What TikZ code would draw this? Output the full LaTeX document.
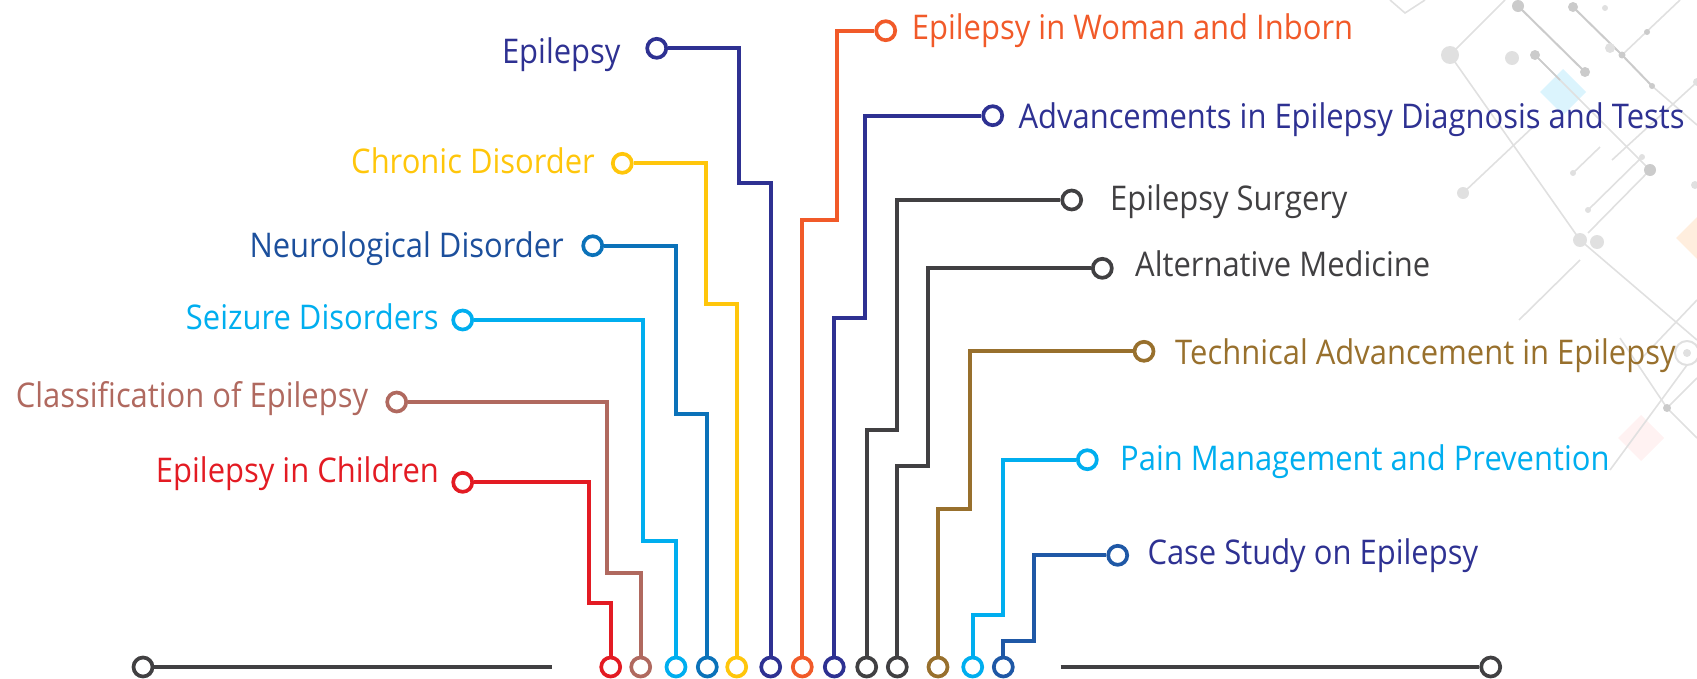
\documentclass[tikz,border=0pt]{standalone}
\usepackage{fontspec}
\setmainfont[FakeStretch=0.91]{Open Sans}
\definecolor{cnavy}{HTML}{2E3192}
\definecolor{corange}{HTML}{F15A29}
\definecolor{cyellow}{HTML}{FFC60B}
\definecolor{cneutxt}{HTML}{1C4F9C}
\definecolor{cneuline}{HTML}{0B72B9}
\definecolor{clblue}{HTML}{00AEEF}
\definecolor{crose}{HTML}{B0695F}
\definecolor{cred}{HTML}{E31B23}
\definecolor{cgray}{HTML}{414042}
\definecolor{cgold}{HTML}{98702D}
\definecolor{ccase}{HTML}{1F58A6}
\definecolor{cdeco}{HTML}{E0E0E0}
\definecolor{cdecodark}{HTML}{CBCBCB}
\tikzset{
  wire/.style={line width=3.7pt},
  pin/.style={circle, draw=#1, fill=white, line width=3.7pt, minimum size=19pt, inner sep=0pt},
  lbl/.style={inner sep=0pt, text=#1, font=\fontsize{34}{40}\selectfont},
  decoline/.style={draw=cdeco, line width=1.6pt},
}
\begin{document}
\begin{tikzpicture}[x=1pt,y=-1pt]
\useasboundingbox (0,0) rectangle (1697,678);
% ---------- background decoration ----------
\begin{scope}
\clip (0,0) rectangle (1697,678);
\fill[cyan!14] (1563,69) -- (1586,92) -- (1563,115) -- (1540,92) -- cycle;
\fill[orange!13] (1699,215) -- (1722,238) -- (1699,261) -- (1676,238) -- cycle;
\fill[red!5] (1641,415) -- (1664,438) -- (1641,461) -- (1618,438) -- cycle;
\draw[decoline] (1450,55) -- (1580,240) -- (1697,340);
\draw[decoline] (1450,55) -- (1505,0);
\draw[decoline] (1390,0) -- (1405,13) -- (1425,0);
\draw[decoline] (1535,55) -- (1650,170);
\draw[decoline] (1650,170) -- (1588,233);
\draw[decoline] (1622,55) -- (1680,0);
\draw[decoline] (1652,86) -- (1697,125);
\draw[decoline] (1697,82) -- (1612,160);
\draw[decoline] (1463,193) -- (1533,127);
\draw[decoline] (1573,173) -- (1600,147);
\draw[decoline] (1588,210) -- (1642,157);
\draw[decoline] (1519,320) -- (1580,260);
\draw[decoline] (1620,338) -- (1667,408) -- (1697,378);
\draw[decoline] (1667,408) -- (1697,438);
\draw[decoline] (1610,470) -- (1687,365);
\draw[decoline] (1697,300) -- (1640,360);
\draw[draw=cdecodark, line width=2pt] (1518,6) -- (1585,72);
\draw[draw=cdecodark, line width=2pt] (1573,7) -- (1622,55) -- (1652,86);
\draw[draw=cdecodark, line width=1.6pt] (1535,55) -- (1560,80);
\draw[cdeco, line width=2pt] (1687,353) circle (12);
\fill[cdecodark] (1518,6) circle (6) (1573,7) circle (5) (1585,72) circle (5)
  (1535,55) circle (5) (1622,55) circle (3.5) (1652,86) circle (3) (1650,170) circle (6)
  (1647,32) circle (3) (1667,408) circle (4);
\fill[cdeco] (1450,55) circle (9) (1512,58) circle (7) (1610,48) circle (5)
  (1580,240) circle (7) (1597,242) circle (7) (1463,193) circle (6) (1573,173) circle (3)
  (1642,157) circle (3) (1588,210) circle (3) (1697,82) circle (4) (1695,185) circle (4)
  (1605,8) circle (3) (1687,353) circle (4);
\end{scope}
% ---------- bottom rails ----------
\node[pin=cgray] (lend) at (143,667) {};
\coordinate (lrail) at (551.7,667);
\draw[cgray, line width=4.2pt] (lend) -- (lrail);
\node[pin=cgray] (rend) at (1490.7,667) {};
\coordinate (rrail) at (1060.7,667);
\draw[cgray, line width=4.2pt] (rrail) -- (rend);
% ---------- pins ----------
\node[pin=cred]     (t1) at (462.7,482.3) {};
\node[pin=cred]     (b1) at (610.7,667) {};
\node[pin=crose]    (t2) at (396.7,402) {};
\node[pin=crose]    (b2) at (640.7,667) {};
\node[pin=clblue]   (t3) at (462.7,320) {};
\node[pin=clblue]   (b3) at (676,667) {};
\node[pin=cneuline] (t4) at (592.7,245.7) {};
\node[pin=cneuline] (b4) at (707.3,667) {};
\node[pin=cyellow]  (t5) at (622.3,163.3) {};
\node[pin=cyellow]  (b5) at (736.7,667) {};
\node[pin=cnavy]    (t6) at (656.7,48.3) {};
\node[pin=cnavy]    (b6) at (770.7,667) {};
\node[pin=corange]  (t7) at (885.7,30.7) {};
\node[pin=corange]  (b7) at (802.3,667) {};
\node[pin=cnavy]    (t8) at (992.7,115.7) {};
\node[pin=cnavy]    (b8) at (834.3,667) {};
\node[pin=cgray]    (t9) at (1071.7,200) {};
\node[pin=cgray]    (b9) at (866.7,667) {};
\node[pin=cgray]    (t10) at (1102.3,268.3) {};
\node[pin=cgray]    (b10) at (897.3,667) {};
\node[pin=cgold]    (t11) at (1144,351.3) {};
\node[pin=cgold]    (b11) at (938,667) {};
\node[pin=clblue]   (t12) at (1087.3,459.7) {};
\node[pin=clblue]   (b12) at (972.7,667) {};
\node[pin=ccase]    (t13) at (1117.7,555.3) {};
\node[pin=ccase]    (b13) at (1003.3,667) {};
% ---------- wires ----------
\draw[wire, cred]     (t1) -- (589.3,482.3) |- (610.7,603) -- (b1);
\draw[wire, crose]    (t2) -- (607.3,402) |- (640.7,573) -- (b2);
\draw[wire, clblue]   (t3) -- (642.7,320) |- (676,541.3) -- (b3);
\draw[wire, cneuline] (t4) -- (676,245.7) |- (707.3,414) -- (b4);
\draw[wire, cyellow]  (t5) -- (706,163.3) |- (736.7,304.3) -- (b5);
\draw[wire, cnavy]    (t6) -- (739.3,48.3) |- (770.7,183.3) -- (b6);
\draw[wire, corange]  (b7) -- (802.3,220) -| (836.7,30.7) -- (t7);
\draw[wire, cnavy]    (b8) -- (834.3,318.3) -| (865,115.7) -- (t8);
\draw[wire, cgray]    (b9) -- (866.7,430.3) -| (897.3,200) -- (t9);
\draw[wire, cgray]    (b10) -- (897.3,466.3) -| (927.7,268.3) -- (t10);
\draw[wire, cgold]    (b11) -- (938,509) -| (970,351.3) -- (t11);
\draw[wire, clblue]   (b12) -- (972.7,614.7) -| (1003.3,459.7) -- (t12);
\draw[wire, ccase]    (b13) -- (1003.3,641.3) -| (1034.3,555.3) -- (t13);
% ---------- labels ----------
\node[lbl=cnavy, anchor=base east]   (l6) at (620.7,63.3)  {Epilepsy};
\node[lbl=cyellow, anchor=base east] (l5) at (595,173.3)   {Chronic Disorder};
\node[lbl=cneutxt, anchor=base east] (l4) at (564,257.7)   {Neurological Disorder};
\node[lbl=clblue, anchor=base east]  (l3) at (438.7,329)   {Seizure Disorders};
\node[lbl=crose, anchor=base east]   (l2) at (368.3,407)   {Classification of Epilepsy};
\node[lbl=cred, anchor=base east]    (l1) at (439,482)     {Epilepsy in Children};
\node[lbl=corange, anchor=base west] (l7) at (911.7,39.3)  {Epilepsy in Woman and Inborn};
\node[lbl=cnavy, anchor=base west]   (l8) at (1018.3,128.3) {Advancements in Epilepsy Diagnosis and Tests};
\node[lbl=cgray, anchor=base west]   (l9) at (1110,210.7)  {Epilepsy Surgery};
\node[lbl=cgray, anchor=base west]   (l10) at (1135,276.7) {Alternative Medicine};
\node[lbl=cgold, anchor=base west]   (l11) at (1175,364)   {Technical Advancement in Epilepsy};
\node[lbl=clblue, anchor=base west]  (l12) at (1120,470.7) {Pain Management and Prevention};
\node[lbl=cnavy, anchor=base west]   (l13) at (1147.3,564) {Case Study on Epilepsy};
\end{tikzpicture}
\end{document}
